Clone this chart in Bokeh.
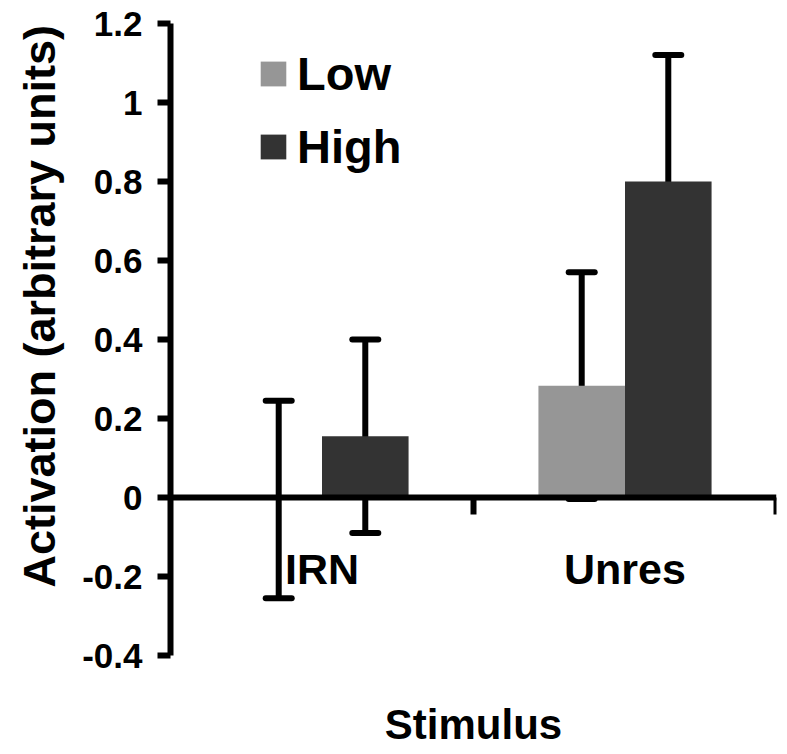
from bokeh.plotting import figure
from bokeh.models import (ColumnDataSource, Range1d, FixedTicker, LinearAxis,
                          Whisker, TeeHead, Legend, LegendItem, Title)
from bokeh.embed import file_html
from bokeh.resources import INLINE

# ---- data ----
categories = ["IRN", "Unres"]
series_names = ["Low", "High"]
low_means = [-0.005, 0.283]
low_errors = [0.25, 0.287]
high_means = [0.155, 0.80]
high_errors = [0.245, 0.32]
y_tick_values = [-0.4, -0.2, 0, 0.2, 0.4, 0.6, 0.8, 1, 1.2]
y_tick_labels = ["-0.4", "-0.2", "0", "0.2", "0.4", "0.6", "0.8", "1", "1.2"]
x_title = "Stimulus"
y_title = "Activation (arbitrary units)"

# ---- style ----
FONT = "Liberation Sans"
series_colors = ["#969696", "#333333"]
bar_w = 1 / 3.5
n = len(categories)
LW = 6

p = figure(width=787, height=754,
           x_range=Range1d(0, n), y_range=Range1d(-0.4, 1.2),
           output_backend="svg", toolbar_location=None,
           min_border_left=170, min_border_top=23,
           min_border_right=11, min_border_bottom=99)
p.xgrid.visible = False
p.ygrid.visible = False
p.outline_line_color = None
p.background_fill_color = "white"
p.border_fill_color = "white"

renderers = []
for s, (name, means, errs) in enumerate(zip(series_names,
                                            [low_means, high_means],
                                            [low_errors, high_errors])):
    offset = (s - 0.5) * bar_w
    xs = [i + 0.5 + offset for i in range(n)]
    src = ColumnDataSource(dict(
        x=xs, top=means,
        upper=[m + e for m, e in zip(means, errs)],
        lower=[m - e for m, e in zip(means, errs)]))
    r = p.vbar(x="x", top="top", bottom=0, width=bar_w, source=src,
               fill_color=series_colors[s], line_color=None)
    renderers.append((name, r, src))

for name, r, src in renderers:
    w = Whisker(source=src, base="x", upper="upper", lower="lower",
                line_width=LW, line_color="black",
                upper_head=TeeHead(size=26, line_width=LW, line_color="black",
                                   line_cap="round"),
                lower_head=TeeHead(size=26, line_width=LW, line_color="black",
                                   line_cap="round"))
    p.add_layout(w)

# ---- y axis ----
ya = p.yaxis[0]
ya.ticker = FixedTicker(ticks=y_tick_values)
ya.major_label_overrides = dict(zip(y_tick_values, y_tick_labels))
ya.major_tick_out = 13
ya.major_tick_in = 0
ya.minor_tick_out = 0
ya.minor_tick_in = 0
ya.major_tick_line_width = LW
ya.axis_line_width = LW
ya.major_label_standoff = 15
ya.major_label_text_font = FONT
ya.major_label_text_font_size = "35px"
ya.major_label_text_font_style = "bold"
ya.major_label_text_color = "black"

# y title, shifted upward like the reference
yt = Title(text=y_title, align="left", offset=68, vertical_align="top",
           standoff=26, text_font=FONT, text_font_size="45px",
           text_font_style="bold", text_color="black")
p.add_layout(yt, "left")

# ---- bottom title axis ----
xa = p.xaxis[0]
xa.ticker = FixedTicker(ticks=[])
xa.axis_line_color = None
xa.major_tick_out = 0
xa.major_tick_in = 0
xa.minor_tick_out = 0
xa.minor_tick_in = 0
xa.major_label_standoff = 0
xa.axis_label = x_title
xa.axis_label_standoff = 45
xa.axis_label_text_font = FONT
xa.axis_label_text_font_size = "42px"
xa.axis_label_text_font_style = "bold"
xa.axis_label_text_color = "black"

# ---- category axis at y = 0 ----
cat_axis = LinearAxis(
    fixed_location=0,
    ticker=FixedTicker(ticks=[i + 0.5 for i in range(n)],
                       minor_ticks=[i + 1 for i in range(n)]),
    major_label_overrides={i + 0.5: c for i, c in enumerate(categories)},
    major_tick_out=0, major_tick_in=0,
    minor_tick_out=17, minor_tick_in=0, minor_tick_line_width=LW,
    axis_line_width=LW, major_label_standoff=30,
    major_label_text_font=FONT, major_label_text_font_size="43px",
    major_label_text_font_style="bold", major_label_text_color="black")
p.add_layout(cat_axis, "below")

# ---- legend ----
legend = Legend(items=[LegendItem(label=name, renderers=[r]) for name, r, _ in renderers],
                location=(87, 481), glyph_width=32, glyph_height=31,
                label_text_font=FONT, label_text_font_size="47px",
                label_text_font_style="bold", label_text_color="black",
                label_standoff=8, spacing=18, padding=0, margin=0,
                border_line_color=None, background_fill_alpha=0)
p.add_layout(legend)

open("out.html", "w").write(file_html(p, INLINE))
